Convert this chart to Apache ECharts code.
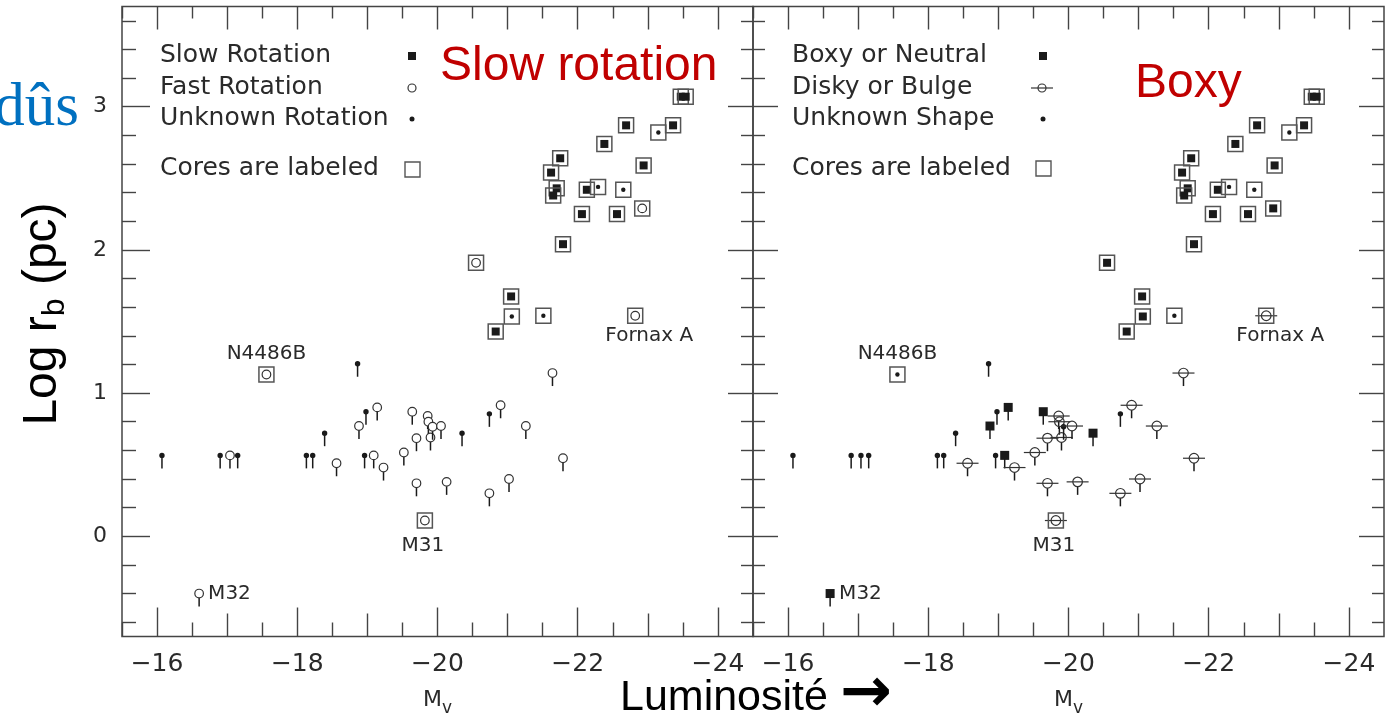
<!DOCTYPE html>
<html><head><meta charset="utf-8">
<script src="https://cdn.jsdelivr.net/npm/echarts@6/dist/echarts.min.js"></script>
<style>html,body{margin:0;padding:0;background:#fff;overflow:hidden}#c{width:1393px;height:718px}</style>
</head><body><div id="c"></div>
<script>
// ---------- DATA ----------
// Core galaxies (drawn inside a box)
const coreMv    = [-23.47, -23.54, -22.69, -23.15, -23.36, -22.38, -21.75, -22.94, -21.62, -21.70, -21.65, -22.13, -22.29, -22.65, -22.06, -22.56, -22.92, -21.79, -20.55, -21.05, -21.06, -21.51, -20.83, -22.82, -17.56, -19.82];
const coreLogRb = [3.07, 3.07, 2.87, 2.82, 2.87, 2.74, 2.64, 2.59, 2.54, 2.43, 2.38, 2.42, 2.44, 2.42, 2.25, 2.25, 2.29, 2.04, 1.91, 1.675, 1.535, 1.54, 1.43, 1.54, 1.13, 0.11];
const coreRotation = ['slow','slow','slow','unknown','slow','slow','slow','slow','slow','slow','slow','slow','unknown','unknown','slow','slow','fast','slow','fast','slow','unknown','unknown','slow','fast','fast','fast'];
const coreShape = ['boxy','boxy','boxy','unknown','boxy','boxy','boxy','boxy','boxy','boxy','boxy','boxy','unknown','unknown','boxy','boxy','boxy','boxy','boxy','boxy','boxy','unknown','boxy','disky','unknown','disky'];
const coreName = ['','','','','','','','','','','','','','','','','','','','','','','','Fornax A','N4486B','M31'];

// Power-law galaxies (upper limits, drawn with a stem)
const plMv    = [-16.07,-16.90,-17.04,-17.15,-16.60,-18.13,-18.22,-18.39,-18.56,-18.86,-18.88,-18.98,-18.96,-19.14,-19.09,-19.23,-19.52,-19.64,-19.70,-19.70,-19.86,-19.87,-19.90,-19.93,-20.05,-20.35,-20.13,-20.74,-20.90,-20.74,-21.02,-21.26,-21.64,-21.79];
const plLogRb = [0.565,0.565,0.565,0.565,-0.40,0.565,0.565,0.72,0.51,1.205,0.77,0.87,0.565,0.90,0.565,0.48,0.585,0.87,0.685,0.37,0.84,0.80,0.69,0.765,0.77,0.72,0.38,0.855,0.915,0.30,0.40,0.77,1.14,0.545];
const plRotation = ['unknown','unknown','fast','unknown','fast','unknown','unknown','unknown','fast','unknown','fast','unknown','unknown','fast','fast','fast','fast','fast','fast','fast','fast','fast','fast','fast','fast','unknown','fast','unknown','fast','fast','fast','fast','fast','fast'];
const plShape = ['unknown','unknown','unknown','unknown','boxy','unknown','unknown','unknown','disky','unknown','boxy','unknown','unknown','boxy','boxy','disky','disky','boxy','disky','disky','disky','disky','disky','unknown','disky','boxy','disky','unknown','disky','disky','disky','disky','disky','disky'];
const plName = ['','','','','M32','','','','','','','','','','','','','','','','','','','','','','','','','','','','',''];

// Axis ticks / labels
const xLabelTicks = [-16, -18, -20, -22, -24];
const xOddTicks   = [-17, -19, -21, -23];
const xIntTicks   = [-16, -17, -18, -19, -20, -21, -22, -23, -24];
const xHalfTicks  = [-15.5, -16.5, -17.5, -18.5, -19.5, -20.5, -21.5, -22.5, -23.5];
const yIntTicks   = [0, 1, 2, 3];
const yMinorTicks = [-0.6, -0.4, -0.2, 0.2, 0.4, 0.6, 0.8, 1.2, 1.4, 1.6, 1.8, 2.2, 2.4, 2.6, 2.8, 3.2, 3.4, 3.6];

const leftLegend  = ['Slow Rotation', 'Fast Rotation', 'Unknown Rotation', 'Cores are labeled'];
const rightLegend = ['Boxy or Neutral', 'Disky or Bulge', 'Unknown Shape', 'Cores are labeled'];

// ---------- BUILD ----------
const allMv = coreMv.concat(plMv);
const allLogRb = coreLogRb.concat(plLogRb);
const allRot = coreRotation.concat(plRotation);
const allShape = coreShape.concat(plShape);
const allName = coreName.concat(plName);
const allCore = coreMv.map(() => true).concat(plMv.map(() => false));
const points = allMv.map((m, i) => [m, allLogRb[i]]);

const labelPlace = {
  'N4486B':   {dx: 0,  dy: -21, align: 'center'},
  'M31':      {dx: -2, dy: 25,  align: 'center'},
  'M32':      {dx: 9,  dy: 0,   align: 'left'},
  'Fornax A': {dx: 14, dy: 20,  align: 'center'}
};

const INK = '#1a1a1a', GREY = '#333';
const TXT = '#2a2a2a';

function markerEls(kind, x, y, inCore) {
  if (kind === 'square') {
    const s = inCore ? 8 : 9;
    return [{type: 'rect', shape: {x: x - s / 2, y: y - s / 2, width: s, height: s}, style: {fill: INK}}];
  }
  if (kind === 'circle') {
    return [{type: 'circle', shape: {cx: x, cy: y, r: 4.3}, style: {fill: '#fff', stroke: GREY, lineWidth: 1.2}}];
  }
  if (kind === 'disky') {
    return [
      {type: 'line', shape: {x1: x - 11, y1: y, x2: x + 11, y2: y}, style: {stroke: GREY, lineWidth: 1.2}},
      {type: 'circle', shape: {cx: x, cy: y, r: 4.8}, style: {fill: 'none', stroke: GREY, lineWidth: 1.2}}
    ];
  }
  const r = inCore ? 2.2 : 2.7;
  return [{type: 'circle', shape: {cx: x, cy: y, r: r}, style: {fill: INK}}];
}

function kindFor(panel, i) {
  if (panel === 'left') {
    return allRot[i] === 'slow' ? 'square' : (allRot[i] === 'fast' ? 'circle' : 'dot');
  }
  return allShape[i] === 'boxy' ? 'square' : (allShape[i] === 'disky' ? 'disky' : 'dot');
}

function makeRender(panel) {
  return function (params, api) {
    const i = params.dataIndex;
    const p = api.coord([api.value(0), api.value(1)]);
    const x = p[0], y = p[1];
    const kind = kindFor(panel, i);
    const ch = [];
    if (!allCore[i]) {
      const y0 = (kind === 'circle') ? y + 4.3 : ((kind === 'disky') ? y + 4.8 : y);
      ch.push({type: 'line', shape: {x1: x, y1: y0, x2: x, y2: y + 13}, style: {stroke: INK, lineWidth: 1.5}});
    }
    markerEls(kind, x, y, allCore[i]).forEach(e => ch.push(e));
    if (allCore[i]) {
      ch.push({type: 'rect', shape: {x: x - 7.5, y: y - 7.5, width: 15, height: 15}, style: {fill: 'none', stroke: '#555', lineWidth: 1.5}});
    }
    const nm = allName[i];
    if (nm) {
      const lp = labelPlace[nm];
      ch.push({type: 'text', x: x + lp.dx, y: y + lp.dy,
        style: {text: nm, fill: TXT, font: '20px "DejaVu Sans"', align: lp.align, verticalAlign: 'middle'}});
    }
    return {type: 'group', children: ch};
  };
}

const minus = v => String(v).replace('-', '\u2212');

function xAx(grid, pos, vals, len, labels, withName) {
  const a = {
    type: 'value', gridIndex: grid, position: pos, min: -24.5, max: -15.5, inverse: true,
    axisLine: {show: false, onZero: false}, splitLine: {show: false},
    axisTick: {show: true, inside: true, length: len, customValues: vals, lineStyle: {color: '#444', width: 1.4}},
    axisLabel: labels ? {show: true, customValues: labels, margin: 15, formatter: minus,
      fontFamily: 'DejaVu Sans', fontSize: 25, color: TXT} : {show: false}
  };
  if (withName) {
    a.name = '{m|M}{s|v}';
    a.nameLocation = 'middle';
    a.nameGap = 53;
    a.nameTextStyle = {rich: {
      m: {fontFamily: 'DejaVu Sans', fontSize: 22, color: TXT, verticalAlign: 'top', lineHeight: 24},
      s: {fontFamily: 'DejaVu Sans', fontSize: 17, color: TXT, verticalAlign: 'bottom', lineHeight: 28}
    }};
  }
  return a;
}
function yAx(grid, pos, vals, len, labels) {
  return {
    type: 'value', gridIndex: grid, position: pos, min: -0.7, max: 3.7,
    axisLine: {show: false, onZero: false}, splitLine: {show: false},
    axisTick: {show: true, inside: true, length: len, customValues: vals, lineStyle: {color: '#444', width: 1.4}},
    axisLabel: labels ? {show: true, customValues: labels, margin: 15,
      fontFamily: 'DejaVu Sans', fontSize: 22, color: TXT} : {show: false}
  };
}

const xAxes = [];
const yAxes = [];
[0, 1].forEach(g => {
  xAxes.push(xAx(g, 'bottom', xLabelTicks, 29, xLabelTicks, true));
  xAxes.push(xAx(g, 'bottom', xOddTicks, 23, null, false));
  xAxes.push(xAx(g, 'bottom', xHalfTicks, 14, null, false));
  xAxes.push(xAx(g, 'top', xIntTicks, 23, null, false));
  xAxes.push(xAx(g, 'top', xHalfTicks, 12, null, false));
  yAxes.push(yAx(g, 'left', yIntTicks, g === 0 ? 28 : 25, g === 0 ? yIntTicks : null));
  yAxes.push(yAx(g, 'left', yMinorTicks, g === 0 ? 14 : 12, null));
  yAxes.push(yAx(g, 'right', yIntTicks, 25, null));
  yAxes.push(yAx(g, 'right', yMinorTicks, 12, null));
});

// legend graphics
const legendY = [55, 87, 118, 168];
const g = [];
function legendText(x, y, t) {
  g.push({type: 'text', x: x, y: y, style: {text: t, fill: TXT, font: '25px "DejaVu Sans"', align: 'left', verticalAlign: 'middle'}});
}
leftLegend.forEach((t, i) => legendText(160, legendY[i], t));
rightLegend.forEach((t, i) => legendText(792, legendY[i], t));
// left symbols
g.push({type: 'rect', shape: {x: 412 - 4, y: 56 - 4, width: 8, height: 8}, style: {fill: INK}});
g.push({type: 'circle', shape: {cx: 412, cy: 88, r: 4}, style: {fill: '#fff', stroke: GREY, lineWidth: 1.2}});
g.push({type: 'circle', shape: {cx: 412, cy: 119, r: 2.5}, style: {fill: INK}});
g.push({type: 'rect', shape: {x: 405, y: 162, width: 15, height: 15}, style: {fill: 'none', stroke: '#555', lineWidth: 1.4}});
// right symbols
g.push({type: 'rect', shape: {x: 1043 - 4, y: 56 - 4, width: 8, height: 8}, style: {fill: INK}});
g.push({type: 'line', shape: {x1: 1031, y1: 88, x2: 1053, y2: 88}, style: {stroke: GREY, lineWidth: 1.2}});
g.push({type: 'circle', shape: {cx: 1042, cy: 88, r: 4}, style: {fill: 'none', stroke: GREY, lineWidth: 1.2}});
g.push({type: 'circle', shape: {cx: 1043, cy: 119, r: 2.5}, style: {fill: INK}});
g.push({type: 'rect', shape: {x: 1036, y: 161, width: 15, height: 15}, style: {fill: 'none', stroke: '#555', lineWidth: 1.4}});
// annotations
g.push({type: 'text', x: 79, y: 109, style: {text: 'dûs', fill: '#0070C0', font: '61px "Liberation Serif"', align: 'right', verticalAlign: 'middle'}});
g.push({type: 'text', x: 440, y: 67, style: {text: 'Slow rotation', fill: '#C00000', font: '48px "Liberation Sans"', align: 'left', verticalAlign: 'middle'}});
g.push({type: 'text', x: 1135, y: 84, style: {text: 'Boxy', fill: '#C00000', font: '48px "Liberation Sans"', align: 'left', verticalAlign: 'middle'}});
g.push({type: 'text', x: 45, y: 314, rotation: Math.PI / 2,
  style: {text: '{a|Log r}{b|b}{a| (pc)}', align: 'center', verticalAlign: 'middle',
    rich: {
      a: {fontFamily: 'Liberation Sans', fontSize: 48, fill: '#000', lineHeight: 52, verticalAlign: 'top'},
      b: {fontFamily: 'Liberation Sans', fontSize: 32, fill: '#000', lineHeight: 38, verticalAlign: 'bottom'}
    }}});
g.push({type: 'text', x: 620, y: 698, style: {text: '{a|Luminosité }{b|\u2192}', align: 'left', verticalAlign: 'middle',
  rich: {
    a: {fontFamily: 'Liberation Sans', fontSize: 43, fill: '#000'},
    b: {fontFamily: 'DejaVu Sans', fontSize: 62, fontWeight: 'bold', fill: '#000', padding: [0, 0, 6, 0]}
  }}});

const option = {
  backgroundColor: '#fff',
  animation: false,
  grid: [
    {left: 122, top: 6.5, width: 631, height: 630, show: true, borderColor: '#444', borderWidth: 1.5, backgroundColor: 'transparent', containLabel: false, outerBoundsMode: 'none'},
    {left: 753, top: 6.5, width: 631, height: 630, show: true, borderColor: '#444', borderWidth: 1.5, backgroundColor: 'transparent', containLabel: false, outerBoundsMode: 'none'}
  ],
  xAxis: xAxes,
  yAxis: yAxes,
  series: [
    {type: 'custom', name: 'rotation', xAxisIndex: 0, yAxisIndex: 0, data: points, renderItem: makeRender('left'), clip: false, z: 5},
    {type: 'custom', name: 'shape', xAxisIndex: 5, yAxisIndex: 4, data: points, renderItem: makeRender('right'), clip: false, z: 5}
  ],
  graphic: {elements: g}
};

const chart = echarts.init(document.getElementById('c'), null, {renderer: 'canvas'});
chart.setOption(option);
</script>
</body></html>
